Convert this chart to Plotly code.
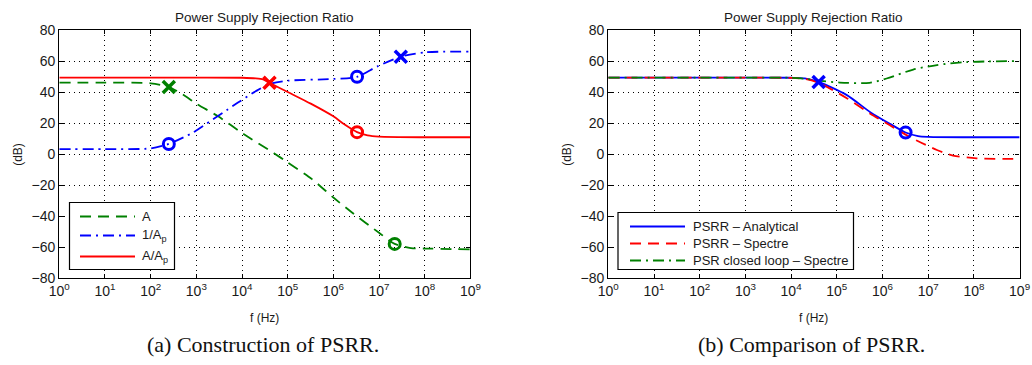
import plotly.graph_objects as go

# ---------------- (a) Construction of PSRR ----------------
# Open-loop gain A
f_A = [1, 10, 100, 250, 500, 1e3, 3e3, 1e4, 5e4, 1e5, 3.4e5, 1e6, 2.6e6, 1e7, 2.2e7, 5e7, 1e8, 1e9]
db_A = [46, 46, 45.6, 43.2, 38.5, 32.5, 24.3, 13.6, 0.5, -5.4, -16.2, -28.1, -37.9, -50.8, -58, -60.7, -61, -61.5]

# Inverse supply gain 1/Ap
f_inv_Ap = [1, 10, 100, 250, 800, 1e3, 8e3, 2e4, 4e4, 1e5, 1e6, 3.3e6, 9e6, 3e7, 1e8, 1e9]
db_inv_Ap = [3.2, 3.2, 3.6, 6.5, 13.4, 15.2, 33, 40.5, 45.2, 47.3, 48.4, 49.8, 56.4, 62.8, 65.6, 66]

# Ratio A/Ap
f_ratio = [1, 1e3, 1e4, 2e4, 2.9e4, 4e4, 1e5, 3.2e5, 1e6, 1.8e6, 3.3e6, 5.6e6, 1e7, 1e8, 1e9]
db_ratio = [49.3, 49.3, 49.2, 48.8, 48.1, 45.9, 40, 32.5, 24.3, 18.8, 14.1, 12, 11.2, 10.8, 10.8]

# Poles (x) and zeros (o) annotated on the curves
mk_A_pole = ([250], [43.2])
mk_A_zero = ([2.2e7], [-58])
mk_inv_zero = ([250, 3.3e6], [6.5, 49.8])
mk_inv_pole = ([3e7], [62.8])
mk_ratio_pole = ([4e4], [45.9])
mk_ratio_zero = ([3.3e6], [14.1])

names_a = ["A", "1/A<sub>p</sub>", "A/A<sub>p</sub>"]

# ---------------- (b) Comparison of PSRR ----------------
f_analytical = [1, 1e3, 1e4, 2e4, 4e4, 1.66e5, 5.4e5, 1.45e6, 3.2e6, 6e6, 1e7, 1e8, 1e9]
db_analytical = [49.3, 49.3, 49.2, 48.8, 46.5, 38, 27, 19.5, 13.9, 11.6, 11.1, 10.8, 10.8]

f_spectre = [1, 1e3, 1e4, 2e4, 4e4, 1.66e5, 5.4e5, 1.45e6, 3.2e6, 5.6e6, 1.55e7, 3.5e7, 1.15e8, 1e9]
db_spectre = [49.3, 49.3, 49.1, 48.5, 46, 36, 26, 18.5, 12.5, 8.7, 2.6, -1, -2.8, -3.2]

f_closed = [1, 1e3, 1e4, 2e4, 4e4, 1.17e5, 5.2e5, 1.23e6, 4.7e6, 1.55e7, 6.9e7, 1e9]
db_closed = [49.3, 49.3, 49.2, 48.6, 47.4, 46.1, 45.9, 48.7, 54.5, 57.4, 59.3, 60]

mk_b_pole = ([4e4], [46.5])
mk_b_zero = ([3.2e6], [13.9])

names_b = ["PSRR \u2013 Analytical", "PSRR \u2013 Spectre", "PSR closed loop \u2013 Spectre"]

GREEN = "#008000"
BLUE = "#0000ff"
RED = "#ff0000"
LW = 1.8
DASH = "11px,7px"
DASHDOT = "11px,5px,2px,5px"

fig = go.Figure()


def curve(x, y, name, color, dash, xa, ya):
    fig.add_trace(go.Scatter(
        x=x, y=y, name=name, mode="lines", showlegend=False,
        line=dict(color=color, width=LW, dash=dash, shape="spline", smoothing=0.7),
        xaxis=xa, yaxis=ya, hoverinfo="skip"))


def marks(pts, color, symbol, xa, ya):
    is_circle = "circle" in symbol
    fig.add_trace(go.Scatter(
        x=pts[0], y=pts[1], mode="markers", showlegend=False,
        marker=dict(symbol=symbol, size=11 if is_circle else 12, color=color,
                    line=dict(color=color, width=3 if is_circle else 3.5)),
        xaxis=xa, yaxis=ya, hoverinfo="skip"))


# left panel
styles_a = [(GREEN, DASH), (BLUE, DASHDOT), (RED, "solid")]
curve(f_A, db_A, names_a[0], *styles_a[0], "x", "y")
curve(f_inv_Ap, db_inv_Ap, names_a[1], *styles_a[1], "x", "y")
curve(f_ratio, db_ratio, names_a[2], *styles_a[2], "x", "y")
marks(mk_A_pole, GREEN, "x-thin", "x", "y")
marks(mk_A_zero, GREEN, "circle-open", "x", "y")
marks(mk_inv_zero, BLUE, "circle-open", "x", "y")
marks(mk_inv_pole, BLUE, "x-thin", "x", "y")
marks(mk_ratio_pole, RED, "x-thin", "x", "y")
marks(mk_ratio_zero, RED, "circle-open", "x", "y")

# right panel
styles_b = [(BLUE, "solid"), (RED, DASH), (GREEN, DASHDOT)]
curve(f_analytical, db_analytical, names_b[0], *styles_b[0], "x2", "y2")
curve(f_spectre, db_spectre, names_b[1], *styles_b[1], "x2", "y2")
curve(f_closed, db_closed, names_b[2], *styles_b[2], "x2", "y2")
marks(mk_b_pole, BLUE, "x-thin", "x2", "y2")
marks(mk_b_zero, BLUE, "circle-open", "x2", "y2")

W, H = 1032, 365
decades = [10 ** k for k in range(10)]
dec_text = ["10<sup>%d</sup>" % k for k in range(10)]
FONT = "Liberation Sans, Arial, sans-serif"
TXT = "#1a1a1a"


def xax(domain, anchor):
    return dict(domain=domain, anchor=anchor, type="log", range=[0, 9], automargin=False,
                tickvals=decades, ticktext=dec_text, ticks="inside", ticklen=4,
                tickcolor="black", showline=True, linecolor="black", linewidth=1.4,
                mirror="ticks", showgrid=True, gridcolor="#000", gridwidth=1,
                griddash="1px,4px", zeroline=False,
                tickfont=dict(family=FONT, size=14, color=TXT))


def yax(anchor):
    return dict(domain=[1 - 278 / H, 1 - 30 / H], anchor=anchor, range=[-80, 80],
                automargin=False,
                tickvals=[-80, -60, -40, -20, 0, 20, 40, 60, 80], ticks="inside",
                ticklen=4, tickcolor="black", showline=True, linecolor="black",
                linewidth=1.4, mirror="ticks", showgrid=True, gridcolor="#000",
                gridwidth=1, griddash="1px,4px", zeroline=False,
                tickfont=dict(family=FONT, size=14, color=TXT))


xl = [59.3 / W, 470.4 / W]
xr = [608.3 / W, 1019.6 / W]

fig.update_layout(
    width=W, height=H, margin=dict(l=0, r=0, t=0, b=0, autoexpand=False),
    paper_bgcolor="white", plot_bgcolor="white", showlegend=False,
    xaxis=xax(xl, "y"), yaxis=yax("x"),
    xaxis2=xax(xr, "y2"), yaxis2=yax("x2"),
)

shapes = []
ann = []


def px_x(v):
    return v / W


def px_y(v):
    return 1 - v / H


def legend_block(box, line_x, text_x, rows, names, styles):
    x0, y0, x1, y1 = box
    shapes.append(dict(type="rect", xref="paper", yref="paper",
                       x0=px_x(x0), x1=px_x(x1), y0=px_y(y1), y1=px_y(y0),
                       line=dict(color="black", width=1.2), fillcolor="white", layer="above"))
    for yc, name, (color, dash) in zip(rows, names, styles):
        shapes.append(dict(type="line", xref="paper", yref="paper",
                           x0=px_x(line_x[0]), x1=px_x(line_x[1]), y0=px_y(yc), y1=px_y(yc),
                           line=dict(color=color, width=LW, dash=dash), layer="above"))
        ann.append(dict(text=name, x=px_x(text_x), y=px_y(yc), xanchor="left",
                        yanchor="middle", font=dict(family=FONT, size=13, color=TXT)))


legend_block((69.5, 202.5, 174.5, 269.5), (80, 135), 139.5, [216.5, 235.5, 256.5], names_a, styles_a)
legend_block((618, 212.5, 853.5, 269.5), (630, 685), 690.5, [226.5, 243.5, 260.5], names_b, styles_b)

for dom, cap in ((xl, "(a) Construction of PSRR."), (xr, "(b) Comparison of PSRR.")):
    cx = (dom[0] + dom[1]) / 2
    ann.append(dict(text="Power Supply Rejection Ratio", x=cx, y=px_y(17),
                    font=dict(family=FONT, size=13.5, color=TXT)))
    ann.append(dict(text="f (Hz)", x=cx, y=px_y(318),
                    font=dict(family=FONT, size=12, color=TXT)))
    ann.append(dict(text=cap, x=cx - 2 / W, y=px_y(344),
                    font=dict(family="Liberation Serif, serif", size=22, color="#111")))
    ann.append(dict(text="(dB)", x=dom[0] - 41.5 / W, y=px_y(154), textangle=-90,
                    font=dict(family=FONT, size=12, color=TXT)))
for a in ann:
    a.setdefault("xanchor", "center")
    a.setdefault("yanchor", "middle")
    a.update(xref="paper", yref="paper", showarrow=False)
fig.update_layout(annotations=ann, shapes=shapes)

fig.write_html("out.html")
